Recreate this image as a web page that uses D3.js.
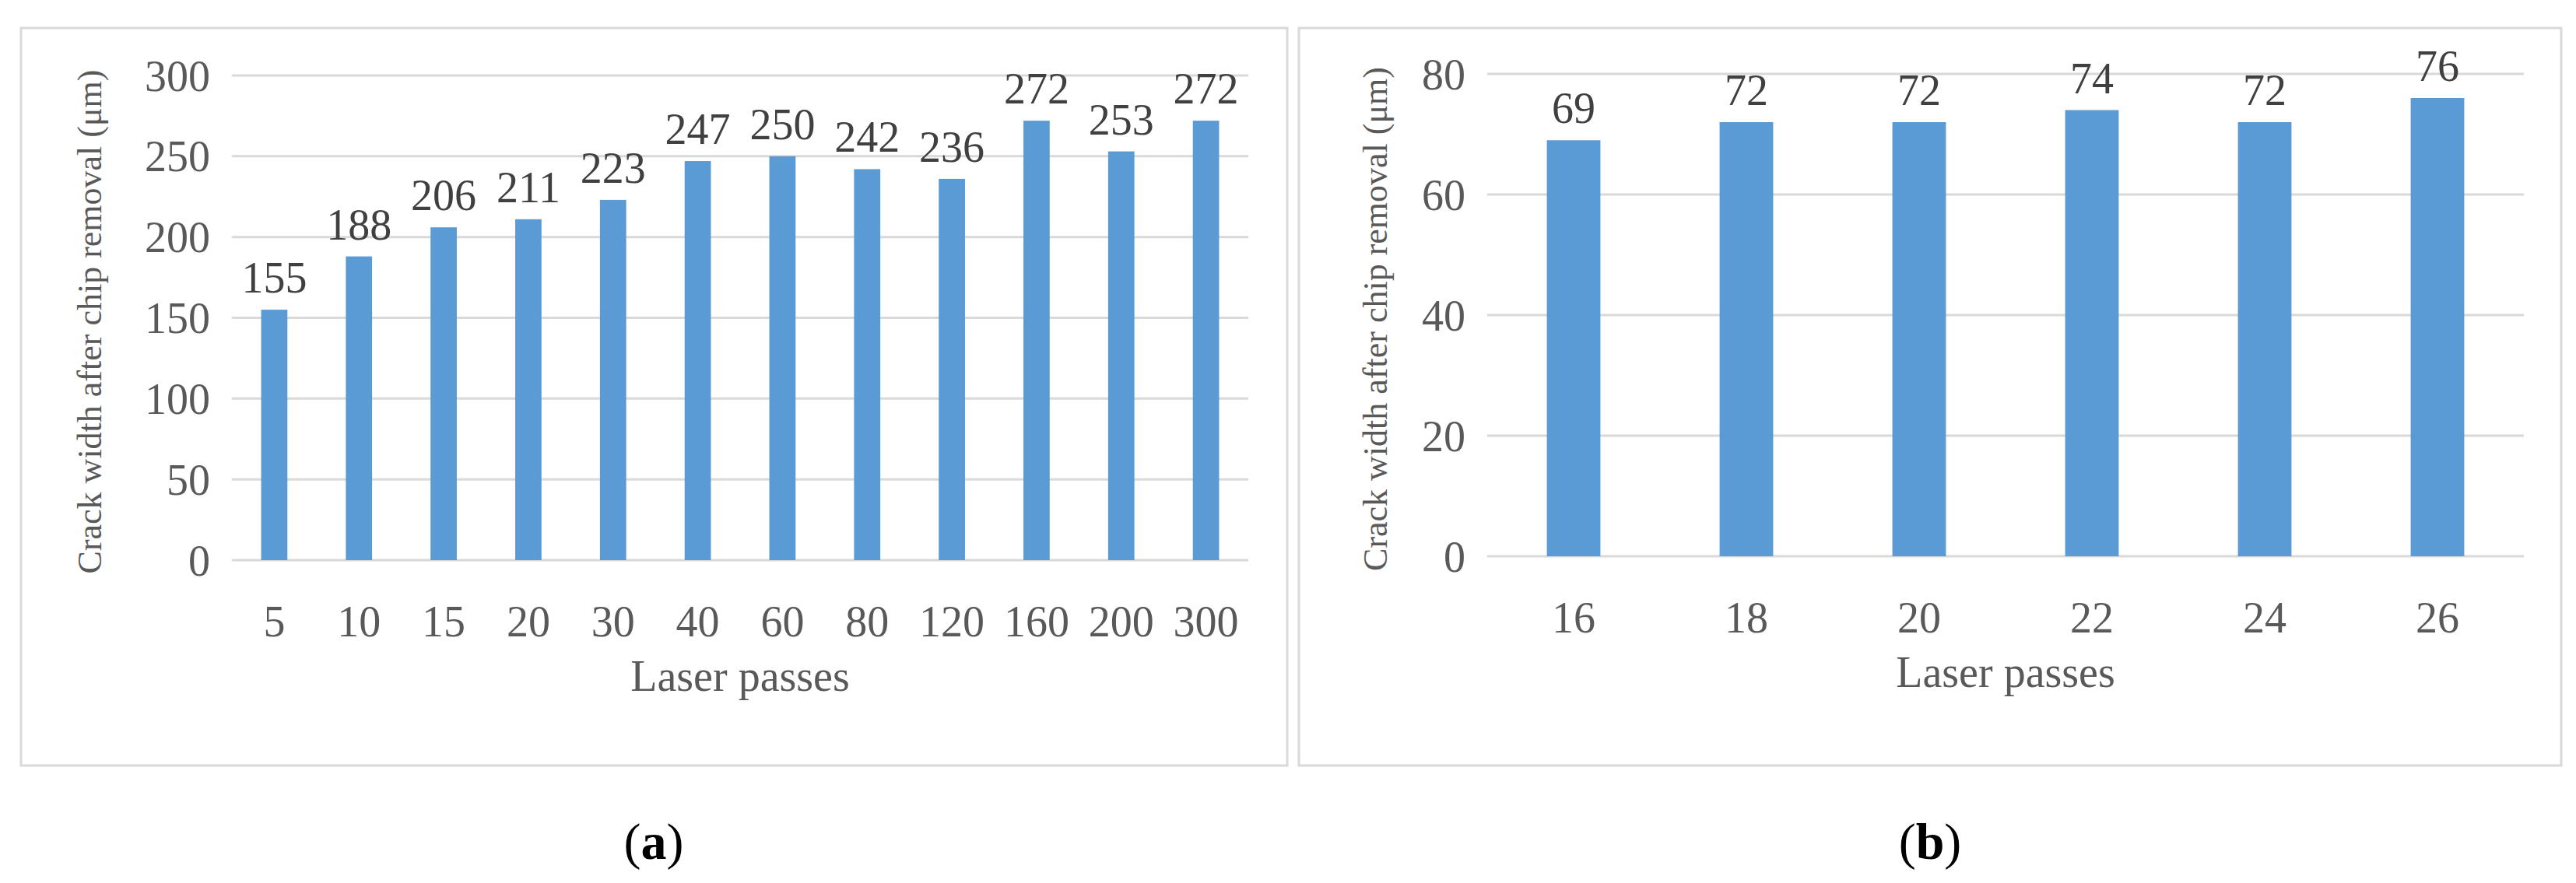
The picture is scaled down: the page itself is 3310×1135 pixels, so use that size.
<!DOCTYPE html>
<html><head><meta charset="utf-8">
<script src="https://cdn.jsdelivr.net/npm/d3@7"></script>
<style>body{margin:0;background:#fff}text{font-family:"Liberation Serif","Times New Roman",serif}</style>
</head><body><svg id="c" width="3310" height="1135"></svg>
<script>
const catsA = ["5","10","15","20","30","40","60","80","120","160","200","300"];
const valsA = [155,188,206,211,223,247,250,242,236,272,253,272];
const ticksA = [0,50,100,150,200,250,300];
const catsB = ["16","18","20","22","24","26"];
const valsB = [69,72,72,74,72,76];
const ticksB = [0,20,40,60,80];
const yLabel = "Crack width after chip removal (μm)";
const xLabel = "Laser passes";

const svg = d3.select("#c");
function panel(o){
  svg.append("rect").attr("x",o.fx).attr("y",36).attr("width",o.fw).attr("height",948)
    .attr("fill","#fff").attr("stroke","#d9d9d9").attr("stroke-width",3);
  const x = d3.scaleBand().domain(o.cats).range([o.l,o.r]).paddingInner(0.69).paddingOuter(0.345);
  const y = d3.scaleLinear().domain([0,o.max]).range([o.b,o.t]);
  const g = svg.append("g");
  g.selectAll(".grid").data(o.ticks).join("line").attr("x1",o.l).attr("x2",o.r)
    .attr("y1",d=>y(d)).attr("y2",d=>y(d)).attr("stroke","#d9d9d9").attr("stroke-width",3);
  g.selectAll(".bar").data(o.vals).join("rect").attr("x",(d,i)=>x(o.cats[i])).attr("width",x.bandwidth())
    .attr("y",d=>y(d)).attr("height",d=>y(0)-y(d)).attr("fill","#5b9bd5");
  g.selectAll(".yt").data(o.ticks).join("text").attr("x",o.l-28).attr("y",d=>y(d)).attr("dy","0.35em")
    .attr("text-anchor","end").attr("font-size",56).attr("fill","#595959").text(d=>d);
  g.selectAll(".xt").data(o.cats).join("text").attr("x",d=>x(d)+x.bandwidth()/2).attr("y",o.b+98)
    .attr("text-anchor","middle").attr("font-size",56).attr("fill","#595959").text(d=>d);
  g.selectAll(".dl").data(o.vals).join("text").attr("x",(d,i)=>x(o.cats[i])+x.bandwidth()/2).attr("y",d=>y(d)-22)
    .attr("text-anchor","middle").attr("font-size",56).attr("fill","#404040").text(d=>d);
  g.append("text").attr("transform",`translate(${o.yl},${(o.t+o.b)/2+5}) rotate(-90)`).attr("dy","0.35em")
    .attr("text-anchor","middle").attr("font-size",44).attr("fill","#595959").text(yLabel);
  g.append("text").attr("x",(o.l+o.r)/2).attr("y",o.b+168).attr("text-anchor","middle")
    .attr("font-size",56).attr("fill","#595959").text(xLabel);
  const t = g.append("text").attr("x",o.cap).attr("y",1104).attr("text-anchor","middle").attr("font-size",66).attr("fill","#000");
  t.append("tspan").text("(");t.append("tspan").attr("font-weight","bold").text(o.letter);t.append("tspan").text(")");
}
panel({fx:27,fw:1627,l:298,r:1604,t:97,b:720,max:300,cats:catsA,vals:valsA,ticks:ticksA,yl:115,cap:840,letter:"a"});
panel({fx:1669,fw:1622,l:1911,r:3243,t:95,b:715,max:80,cats:catsB,vals:valsB,ticks:ticksB,yl:1767,cap:2480,letter:"b"});
</script></body></html>
